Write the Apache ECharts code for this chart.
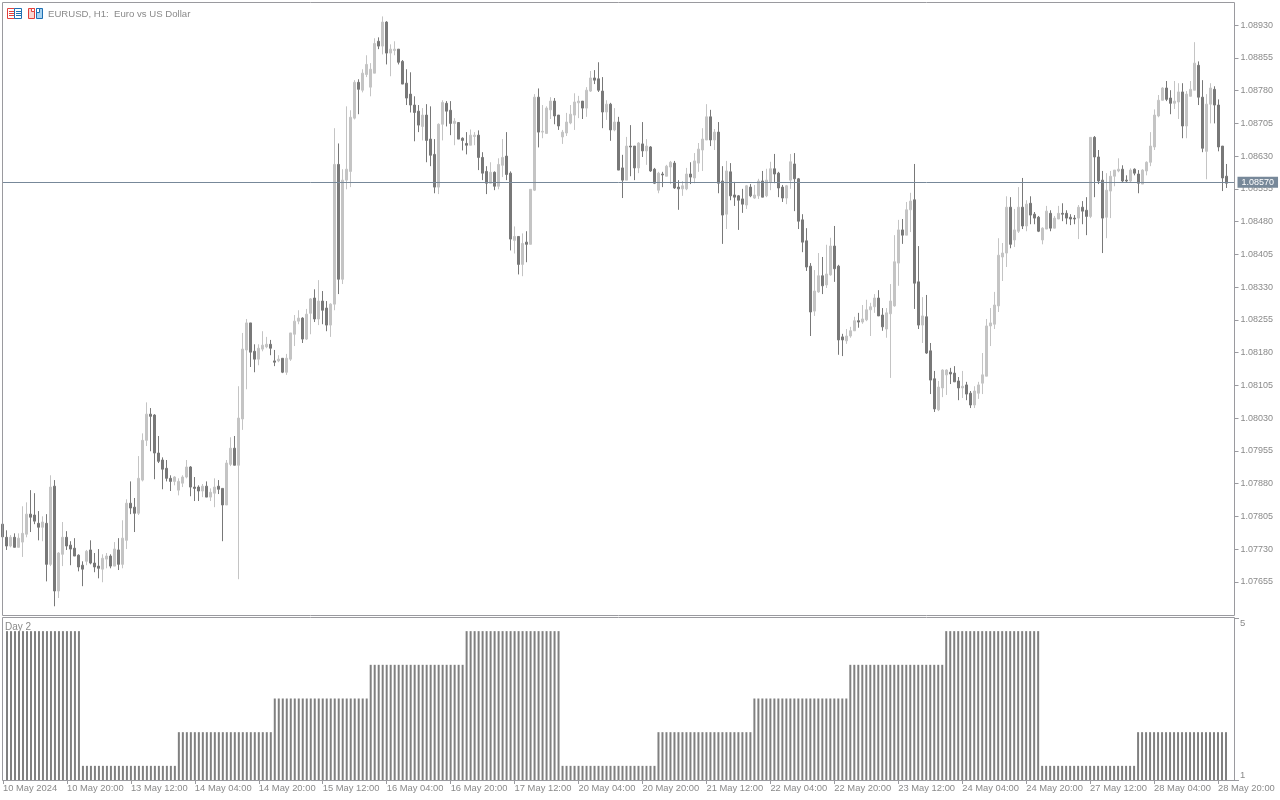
<!DOCTYPE html>
<html>
<head>
<meta charset="utf-8">
<title>EURUSD, H1</title>
<script src="https://cdn.jsdelivr.net/npm/echarts@6/dist/echarts.min.js"></script>
<style>
html,body{margin:0;padding:0;background:#fff;}
#chart{width:1280px;height:800px;}
</style>
</head>
<body>
<div id="chart"></div>
<script>
// 图表数据，按K线顺序读取
var opens = [
1.07787,1.07757,1.07737,1.07757,1.07734,1.07746,1.07764,1.07810,1.07808,1.07789,
1.07780,1.07789,1.07695,1.07874,1.07634,1.07718,1.07757,1.07739,1.07732,1.07716,
1.07693,1.07702,1.07728,1.07698,1.07691,1.07684,1.07707,1.07714,1.07691,1.07728,
1.07695,1.07750,1.07835,1.07826,1.07812,1.07888,1.07979,1.08039,1.08037,1.07950,
1.07934,1.07915,1.07892,1.07885,1.07865,1.07881,1.07895,1.07918,1.07872,1.07872,
1.07863,1.07874,1.07849,1.07858,1.07874,1.07869,1.07831,1.07924,1.07961,1.07922,
1.08028,1.08186,1.08248,1.08183,1.08165,1.08188,1.08193,1.08199,1.08161,1.08161,
1.08167,1.08135,1.08165,1.08222,1.08252,1.08259,1.08211,1.08270,1.08305,1.08257,
1.08298,1.08282,1.08243,1.08291,1.08611,1.08348,1.08575,1.08595,1.08717,1.08799,
1.08781,1.08817,1.08788,1.08820,1.08893,1.08882,1.08937,1.08866,1.08872,1.08875,
1.08847,1.08797,1.08772,1.08747,1.08733,1.08698,1.08724,1.08669,1.08634,1.08559,
1.08703,1.08751,1.08735,1.08705,1.08707,1.08671,1.08659,1.08655,1.08675,1.08678,
1.08627,1.08595,1.08568,1.08593,1.08561,1.08609,1.08630,1.08591,1.08437,1.08446,
1.08382,1.08433,1.08428,1.08552,1.08765,1.08685,1.08682,1.08736,1.08756,1.08724,
1.08674,1.08683,1.08706,1.08724,1.08752,1.08756,1.08740,1.08779,1.08809,1.08807,
1.08779,1.08731,1.08749,1.08690,1.08708,1.08603,1.08575,1.08653,1.08653,1.08603,
1.08658,1.08642,1.08651,1.08600,1.08552,1.08589,1.08584,1.08605,1.08614,1.08559,
1.08555,1.08555,1.08589,1.08580,1.08614,1.08644,1.08667,1.08720,1.08667,1.08685,
1.08573,1.08497,1.08594,1.08541,1.08539,1.08532,1.08518,1.08559,1.08534,1.08539,
1.08573,1.08539,1.08571,1.08601,1.08591,1.08559,1.08534,1.08575,1.08612,1.08578,
1.08484,1.08436,1.08378,1.08275,1.08319,1.08356,1.08335,1.08358,1.08424,1.08378,
1.08216,1.08207,1.08218,1.08230,1.08253,1.08250,1.08255,1.08278,1.08285,1.08305,
1.08266,1.08234,1.08269,1.08287,1.08385,1.08461,1.08449,1.08507,1.08530,1.08342,
1.08243,1.08262,1.08184,1.08120,1.08049,1.08099,1.08129,1.08135,1.08133,1.08115,
1.08099,1.08106,1.08087,1.08060,1.08087,1.08110,1.08126,1.08241,1.08245,1.08287,
1.08399,1.08408,1.08513,1.08438,1.08458,1.08513,1.08470,1.08522,1.08497,1.08490,
1.08438,1.08463,1.08499,1.08465,1.08486,1.08499,1.08499,1.08490,1.08488,1.08488,
1.08513,1.08506,1.08492,1.08673,1.08628,1.08575,1.08490,1.08550,1.08584,1.08596,
1.08600,1.08575,1.08573,1.08600,1.08589,1.08566,1.08596,1.08616,1.08651,1.08722,
1.08758,1.08786,1.08763,1.08751,1.08754,1.08777,1.08699,1.08767,1.08781,1.08838,
1.08765,1.08641,1.08749,1.08783,1.08747,1.08653,1.08584
];
var closes = [
1.07758,1.07737,1.07757,1.07734,1.07755,1.07766,1.07810,1.07803,1.07794,1.07780,
1.07792,1.07695,1.07872,1.07634,1.07721,1.07757,1.07737,1.07730,1.07714,1.07689,
1.07684,1.07725,1.07698,1.07689,1.07686,1.07709,1.07714,1.07691,1.07730,1.07695,
1.07755,1.07835,1.07824,1.07812,1.07892,1.07979,1.08039,1.08034,1.07950,1.07931,
1.07913,1.07892,1.07885,1.07895,1.07885,1.07895,1.07918,1.07872,1.07869,1.07863,
1.07874,1.07849,1.07860,1.07872,1.07867,1.07831,1.07927,1.07961,1.07922,1.08030,
1.08188,1.08248,1.08181,1.08165,1.08190,1.08197,1.08199,1.08190,1.08158,1.08165,
1.08135,1.08167,1.08225,1.08252,1.08259,1.08211,1.08268,1.08303,1.08257,1.08298,
1.08277,1.08243,1.08291,1.08611,1.08348,1.08575,1.08600,1.08719,1.08799,1.08783,
1.08820,1.08840,1.08829,1.08888,1.08882,1.08937,1.08866,1.08875,1.08875,1.08845,
1.08795,1.08763,1.08747,1.08730,1.08701,1.08724,1.08666,1.08632,1.08559,1.08703,
1.08753,1.08733,1.08705,1.08710,1.08669,1.08666,1.08655,1.08678,1.08678,1.08627,
1.08591,1.08568,1.08593,1.08561,1.08611,1.08627,1.08588,1.08440,1.08446,1.08382,
1.08430,1.08428,1.08554,1.08765,1.08685,1.08687,1.08740,1.08756,1.08722,1.08699,
1.08685,1.08708,1.08726,1.08754,1.08756,1.08740,1.08781,1.08809,1.08804,1.08781,
1.08731,1.08749,1.08690,1.08708,1.08598,1.08575,1.08653,1.08651,1.08603,1.08660,
1.08642,1.08653,1.08596,1.08568,1.08591,1.08587,1.08607,1.08616,1.08557,1.08555,
1.08562,1.08589,1.08582,1.08619,1.08646,1.08669,1.08720,1.08667,1.08685,1.08568,
1.08495,1.08596,1.08539,1.08536,1.08529,1.08520,1.08562,1.08539,1.08541,1.08573,
1.08536,1.08575,1.08601,1.08589,1.08557,1.08534,1.08562,1.08617,1.08578,1.08481,
1.08433,1.08376,1.08273,1.08321,1.08356,1.08333,1.08360,1.08424,1.08372,1.08209,
1.08209,1.08218,1.08230,1.08253,1.08250,1.08257,1.08278,1.08285,1.08305,1.08264,
1.08239,1.08271,1.08298,1.08388,1.08461,1.08449,1.08507,1.08527,1.08339,1.08243,
1.08264,1.08179,1.08117,1.08051,1.08101,1.08140,1.08140,1.08131,1.08113,1.08099,
1.08103,1.08085,1.08060,1.08092,1.08106,1.08129,1.08241,1.08248,1.08289,1.08403,
1.08408,1.08513,1.08428,1.08461,1.08513,1.08470,1.08520,1.08495,1.08488,1.08458,
1.08465,1.08504,1.08465,1.08488,1.08499,1.08497,1.08488,1.08486,1.08486,1.08513,
1.08504,1.08492,1.08673,1.08628,1.08573,1.08488,1.08552,1.08584,1.08598,1.08600,
1.08573,1.08573,1.08598,1.08591,1.08568,1.08598,1.08616,1.08653,1.08724,1.08758,
1.08786,1.08760,1.08751,1.08756,1.08777,1.08699,1.08772,1.08783,1.08843,1.08765,
1.08648,1.08749,1.08786,1.08747,1.08651,1.08580,1.08568
];
var lows = [
1.07758,1.07728,1.07734,1.07734,1.07734,1.07712,1.07757,1.07769,1.07787,1.07750,
1.07748,1.07656,1.07691,1.07599,1.07618,1.07691,1.07728,1.07693,1.07714,1.07679,
1.07645,1.07693,1.07695,1.07677,1.07663,1.07654,1.07686,1.07686,1.07691,1.07682,
1.07686,1.07730,1.07810,1.07769,1.07808,1.07885,1.07966,1.07954,1.07890,1.07927,
1.07867,1.07885,1.07863,1.07876,1.07853,1.07872,1.07892,1.07851,1.07840,1.07840,
1.07849,1.07849,1.07840,1.07826,1.07856,1.07748,1.07831,1.07920,1.07922,1.07661,
1.08003,1.08096,1.08147,1.08135,1.08151,1.08183,1.08190,1.08174,1.08149,1.08158,
1.08133,1.08129,1.08161,1.08195,1.08245,1.08202,1.08209,1.08222,1.08250,1.08243,
1.08245,1.08229,1.08216,1.08277,1.08314,1.08337,1.08554,1.08559,1.08714,1.08726,
1.08776,1.08811,1.08767,1.08820,1.08875,1.08863,1.08840,1.08813,1.08861,1.08840,
1.08795,1.08747,1.08730,1.08664,1.08685,1.08666,1.08616,1.08607,1.08545,1.08543,
1.08666,1.08698,1.08678,1.08655,1.08669,1.08643,1.08634,1.08655,1.08655,1.08598,
1.08575,1.08543,1.08568,1.08552,1.08554,1.08582,1.08575,1.08414,1.08407,1.08359,
1.08355,1.08387,1.08428,1.08550,1.08650,1.08671,1.08682,1.08715,1.08703,1.08690,
1.08658,1.08676,1.08703,1.08690,1.08717,1.08715,1.08720,1.08777,1.08795,1.08777,
1.08694,1.08713,1.08665,1.08687,1.08598,1.08534,1.08575,1.08584,1.08575,1.08591,
1.08628,1.08610,1.08594,1.08566,1.08545,1.08559,1.08584,1.08566,1.08555,1.08507,
1.08539,1.08552,1.08566,1.08568,1.08594,1.08596,1.08667,1.08653,1.08644,1.08545,
1.08429,1.08463,1.08529,1.08516,1.08461,1.08500,1.08509,1.08536,1.08532,1.08532,
1.08536,1.08536,1.08552,1.08568,1.08536,1.08525,1.08520,1.08555,1.08504,1.08463,
1.08410,1.08367,1.08218,1.08264,1.08317,1.08314,1.08328,1.08356,1.08342,1.08175,
1.08172,1.08200,1.08214,1.08230,1.08237,1.08246,1.08252,1.08218,1.08271,1.08264,
1.08230,1.08214,1.08122,1.08285,1.08333,1.08429,1.08449,1.08456,1.08280,1.08234,
1.08202,1.08177,1.08085,1.08044,1.08046,1.08078,1.08083,1.08108,1.08113,1.08071,
1.08076,1.08071,1.08053,1.08053,1.08074,1.08085,1.08126,1.08195,1.08234,1.08273,
1.08344,1.08376,1.08419,1.08422,1.08454,1.08463,1.08458,1.08474,1.08474,1.08456,
1.08428,1.08463,1.08458,1.08465,1.08486,1.08481,1.08474,1.08472,1.08474,1.08440,
1.08474,1.08449,1.08488,1.08536,1.08566,1.08408,1.08442,1.08488,1.08561,1.08593,
1.08570,1.08570,1.08570,1.08586,1.08545,1.08566,1.08586,1.08607,1.08644,1.08719,
1.08758,1.08756,1.08726,1.08738,1.08715,1.08671,1.08671,1.08767,1.08781,1.08747,
1.08639,1.08577,1.08705,1.08705,1.08641,1.08550,1.08557
];
var highs = [
1.07789,1.07773,1.07762,1.07766,1.07766,1.07828,1.07837,1.07865,1.07858,1.07817,
1.07805,1.07810,1.07899,1.07888,1.07723,1.07792,1.07771,1.07748,1.07755,1.07718,
1.07702,1.07728,1.07750,1.07721,1.07730,1.07718,1.07721,1.07718,1.07746,1.07755,
1.07796,1.07844,1.07885,1.07847,1.07943,1.07995,1.08066,1.08053,1.08039,1.07989,
1.07940,1.07934,1.07899,1.07897,1.07892,1.07899,1.07934,1.07920,1.07895,1.07876,
1.07879,1.07885,1.07869,1.07892,1.07888,1.07869,1.07934,1.07986,1.07989,1.08103,
1.08225,1.08257,1.08248,1.08199,1.08199,1.08229,1.08216,1.08209,1.08186,1.08174,
1.08167,1.08177,1.08225,1.08266,1.08277,1.08261,1.08280,1.08305,1.08325,1.08346,
1.08321,1.08298,1.08293,1.08694,1.08659,1.08600,1.08744,1.08735,1.08804,1.08806,
1.08829,1.08861,1.08843,1.08900,1.08902,1.08950,1.08939,1.08886,1.08893,1.08875,
1.08850,1.08829,1.08822,1.08767,1.08747,1.08740,1.08749,1.08744,1.08669,1.08705,
1.08758,1.08756,1.08756,1.08717,1.08707,1.08673,1.08685,1.08691,1.08685,1.08689,
1.08639,1.08607,1.08616,1.08595,1.08625,1.08669,1.08685,1.08595,1.08469,1.08446,
1.08453,1.08458,1.08554,1.08772,1.08785,1.08747,1.08744,1.08765,1.08763,1.08724,
1.08690,1.08729,1.08747,1.08774,1.08768,1.08756,1.08788,1.08825,1.08827,1.08845,
1.08811,1.08758,1.08752,1.08740,1.08720,1.08633,1.08674,1.08701,1.08653,1.08662,
1.08708,1.08669,1.08653,1.08603,1.08594,1.08594,1.08610,1.08619,1.08619,1.08575,
1.08573,1.08603,1.08616,1.08637,1.08660,1.08694,1.08749,1.08736,1.08692,1.08708,
1.08607,1.08619,1.08614,1.08571,1.08541,1.08555,1.08564,1.08566,1.08564,1.08578,
1.08596,1.08601,1.08617,1.08635,1.08594,1.08564,1.08564,1.08635,1.08637,1.08580,
1.08497,1.08465,1.08385,1.08369,1.08408,1.08399,1.08427,1.08443,1.08470,1.08381,
1.08223,1.08234,1.08239,1.08262,1.08271,1.08289,1.08301,1.08294,1.08314,1.08323,
1.08282,1.08282,1.08337,1.08449,1.08484,1.08486,1.08525,1.08546,1.08612,1.08424,
1.08307,1.08312,1.08202,1.08138,1.08115,1.08142,1.08142,1.08145,1.08149,1.08124,
1.08138,1.08113,1.08092,1.08103,1.08113,1.08179,1.08257,1.08282,1.08319,1.08442,
1.08431,1.08538,1.08536,1.08509,1.08559,1.08580,1.08529,1.08538,1.08502,1.08493,
1.08467,1.08516,1.08506,1.08493,1.08516,1.08522,1.08506,1.08497,1.08495,1.08518,
1.08527,1.08536,1.08673,1.08676,1.08644,1.08596,1.08591,1.08596,1.08598,1.08625,
1.08609,1.08586,1.08602,1.08602,1.08598,1.08600,1.08618,1.08685,1.08737,1.08770,
1.08788,1.08802,1.08781,1.08802,1.08797,1.08797,1.08779,1.08802,1.08891,1.08847,
1.08804,1.08772,1.08797,1.08790,1.08760,1.08653,1.08612
];
// 下方 Day 2 指标
var dayValues = [
null,5,5,5,5,5,5,5,5,5,5,5,5,5,5,5,5,5,5,5,
1,1,1,1,1,1,1,1,1,1,1,1,1,1,1,1,1,1,1,1,1,1,1,1,
2,2,2,2,2,2,2,2,2,2,2,2,2,2,2,2,2,2,2,2,2,2,2,2,
3,3,3,3,3,3,3,3,3,3,3,3,3,3,3,3,3,3,3,3,3,3,3,3,
4,4,4,4,4,4,4,4,4,4,4,4,4,4,4,4,4,4,4,4,4,4,4,4,
5,5,5,5,5,5,5,5,5,5,5,5,5,5,5,5,5,5,5,5,5,5,5,5,
1,1,1,1,1,1,1,1,1,1,1,1,1,1,1,1,1,1,1,1,1,1,1,1,
2,2,2,2,2,2,2,2,2,2,2,2,2,2,2,2,2,2,2,2,2,2,2,2,
3,3,3,3,3,3,3,3,3,3,3,3,3,3,3,3,3,3,3,3,3,3,3,3,
4,4,4,4,4,4,4,4,4,4,4,4,4,4,4,4,4,4,4,4,4,4,4,4,
5,5,5,5,5,5,5,5,5,5,5,5,5,5,5,5,5,5,5,5,5,5,5,5,
1,1,1,1,1,1,1,1,1,1,1,1,1,1,1,1,1,1,1,1,1,1,1,1,
2,2,2,2,2,2,2,2,2,2,2,2,2,2,2,2,2,2,2,2,2,2,2
];
var timeLabels = ['10 May 2024','10 May 20:00','13 May 12:00','14 May 04:00','14 May 20:00','15 May 12:00','16 May 04:00','16 May 20:00','17 May 12:00','20 May 04:00','20 May 20:00','21 May 12:00','22 May 04:00','22 May 20:00','23 May 12:00','24 May 04:00','24 May 20:00','27 May 12:00','28 May 04:00','28 May 20:00'];
var priceTicks = [1.08930,1.08855,1.08780,1.08705,1.08630,1.08555,1.08480,1.08405,1.08330,1.08255,1.08180,1.08105,1.08030,1.07955,1.07880,1.07805,1.07730,1.07655];
var currentPrice = 1.08570;

var uiFont = '"Liberation Sans", Arial, sans-serif';
var lineGray = '#9a9a9f';
var textGray = '#8a8a8a';
var labelStep = 16;

var categories = [];
for (var i = 0; i < 309; i++) {
    categories.push(i % labelStep === 0 && timeLabels[i / labelStep] ? timeLabels[i / labelStep] : '');
}
var candles = [];
for (var j = 0; j < opens.length; j++) {
    candles.push([opens[j], closes[j], lows[j], highs[j]]);
}
function isLabelTick(index) {
    return index % labelStep === 0 && !!categories[index];
}

var myChart = echarts.init(document.getElementById('chart'), null, {renderer: 'canvas'});
var option = {
    animation: false,
    backgroundColor: '#fff',
    title: [
        {text: 'EURUSD, H1:  Euro vs US Dollar', left: 43, top: 4, textStyle: {fontFamily: uiFont, fontSize: 9.6, fontWeight: 'normal', color: textGray}},
        {text: 'Day 2', left: 0, top: 617, textStyle: {fontFamily: uiFont, fontSize: 10, fontWeight: 'normal', color: textGray}}
    ],
    // 上面K线的网格偏移半像素，K线实体正好3像素宽
    grid: [
        {left: 2.5, width: 1232, top: 2, height: 613},
        {left: 2, width: 1232, top: 617, height: 163}
    ],
    xAxis: [
        {type: 'category', gridIndex: 0, data: categories, boundaryGap: false, show: false},
        {
            type: 'category', gridIndex: 1, data: categories, boundaryGap: false,
            axisLine: {show: false},
            axisTick: {show: true, length: 4, interval: isLabelTick, lineStyle: {color: lineGray}},
            axisLabel: {show: true, interval: isLabelTick, align: 'left', margin: 4, hideOverlap: false, color: textGray, fontFamily: uiFont, fontSize: 9.4},
            splitLine: {show: false}
        }
    ],
    yAxis: [
        {
            type: 'value', gridIndex: 0, position: 'right', min: 1.07579, max: 1.08983, scale: true,
            axisLine: {show: false},
            axisTick: {show: true, length: 4, customValues: priceTicks, lineStyle: {color: lineGray}},
            axisLabel: {customValues: priceTicks, margin: 6, color: textGray, fontFamily: uiFont, fontSize: 9, formatter: function (v) { return v.toFixed(5); }},
            splitLine: {show: false}
        },
        {
            type: 'value', gridIndex: 1, position: 'right', min: 0.58, max: 5.42,
            axisLine: {show: false},
            axisTick: {show: true, length: 5, customValues: [0.58, 5.38], lineStyle: {color: lineGray}},
            axisLabel: {customValues: [0.58, 5.38], margin: 6, color: textGray, fontFamily: uiFont, fontSize: 9.5, verticalAlignMinLabel: 'bottom', verticalAlignMaxLabel: 'top', formatter: function (v) { return String(Math.round(v)); }},
            splitLine: {show: false}
        }
    ],
    series: [
        {
            name: 'EURUSD', type: 'candlestick', xAxisIndex: 0, yAxisIndex: 0,
            barWidth: 2, data: candles, silent: true,
            itemStyle: {color: '#c4c4c4', color0: '#787878', borderColor: '#c4c4c4', borderColor0: '#787878', borderWidth: 1},
            markLine: {
                silent: true, symbol: 'none', animation: false, precision: 5,
                lineStyle: {color: '#778899', width: 1, type: 'solid'},
                label: {position: 'end', distance: 3, formatter: '1.08570', color: '#fff', backgroundColor: '#778899', fontFamily: uiFont, fontSize: 9, padding: [1, 4, 1, 4]},
                data: [{yAxis: currentPrice}]
            }
        },
        {
            name: 'Day 2', type: 'bar', xAxisIndex: 1, yAxisIndex: 1,
            barWidth: 2, data: dayValues, silent: true,
            itemStyle: {color: '#808080'}
        }
    ],
    graphic: [
        // 两个窗格的边框
        {type: 'rect', z: 10, shape: {x: 2.5, y: 2.5, width: 1232, height: 613}, style: {fill: 'none', stroke: lineGray, lineWidth: 1}},
        {type: 'rect', z: 10, shape: {x: 2.5, y: 617.5, width: 1232, height: 163}, style: {fill: 'none', stroke: lineGray, lineWidth: 1}},
        // 左上角工具图标
        {type: 'rect', shape: {x: 7.5, y: 8.5, width: 7, height: 10}, style: {fill: '#fff', stroke: '#e2403c', lineWidth: 1}},
        {type: 'line', shape: {x1: 9, y1: 11.5, x2: 14, y2: 11.5}, style: {stroke: '#e2403c'}},
        {type: 'line', shape: {x1: 9, y1: 13.5, x2: 14, y2: 13.5}, style: {stroke: '#e2403c'}},
        {type: 'line', shape: {x1: 9, y1: 15.5, x2: 14, y2: 15.5}, style: {stroke: '#e2403c'}},
        {type: 'rect', shape: {x: 14.5, y: 8.5, width: 7, height: 10}, style: {fill: '#fff', stroke: '#1f6fb2', lineWidth: 1}},
        {type: 'line', shape: {x1: 16, y1: 11.5, x2: 21, y2: 11.5}, style: {stroke: '#1f6fb2'}},
        {type: 'line', shape: {x1: 16, y1: 13.5, x2: 21, y2: 13.5}, style: {stroke: '#1f6fb2'}},
        {type: 'line', shape: {x1: 16, y1: 15.5, x2: 21, y2: 15.5}, style: {stroke: '#1f6fb2'}},
        {type: 'rect', shape: {x: 28.5, y: 8.5, width: 6, height: 10}, style: {fill: '#fbd6d0', stroke: '#e2403c', lineWidth: 1}},
        {type: 'rect', shape: {x: 31.5, y: 8.5, width: 3, height: 3}, style: {fill: '#fff', stroke: '#e2403c', lineWidth: 1}},
        {type: 'rect', shape: {x: 36.5, y: 8.5, width: 6, height: 10}, style: {fill: '#a9d3f0', stroke: '#1f6fb2', lineWidth: 1}},
        {type: 'rect', shape: {x: 36.5, y: 8.5, width: 3, height: 4}, style: {fill: '#fff', stroke: '#1f6fb2', lineWidth: 1}}
    ]
};
myChart.setOption(option);
</script>
</body>
</html>
